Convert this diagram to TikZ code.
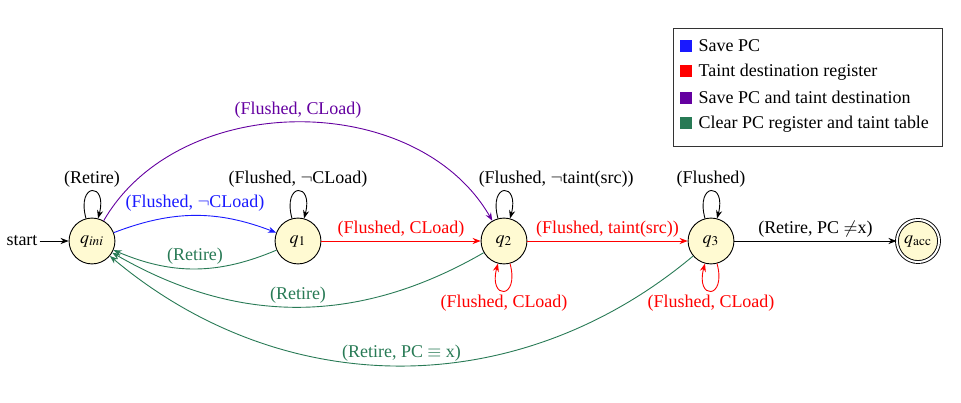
\documentclass[tikz,border=0pt]{standalone}
\usepackage{mathptmx}
\usepackage{fontspec}
\setmainfont{Liberation Serif}
\usetikzlibrary{arrows.meta}
\definecolor{cblue}{RGB}{25,25,255}
\definecolor{cred}{RGB}{255,0,0}
\definecolor{cpurple}{RGB}{100,0,160}
\definecolor{cgreen}{RGB}{40,122,85}
\definecolor{cfill}{RGB}{255,250,210}
\begin{document}
\begin{tikzpicture}[x=0.556pt,y=0.556pt,
  state/.style={circle,draw,line width=0.5pt,fill=cfill,minimum size=25.5pt,inner sep=0pt},
  accstate/.style={state,double,double distance=1.1pt,minimum size=23.4pt},
  tr/.style={-{Stealth[length=4.5pt,width=3.4pt]},line width=0.5pt},
  lbl/.style={inner sep=2pt},
  legrow/.style={anchor=base west,inner sep=0pt}
]
\useasboundingbox (0,0) rectangle (961,403);

% states
\node[state] (qini) at (92,162) {$q_{ini}$};
\node[state] (q1) at (298,162) {$q_1$};
\node[state] (q2) at (504,162) {$q_2$};
\node[state] (q3) at (711,162) {$q_3$};
\node[accstate] (qacc) at (918,162) {$q_{\mathrm{acc}}$};
\node[inner sep=1pt] (start) at (22,162) {start};
\draw[tr] (start) -- (qini);

% straight transitions
\draw[tr,cred] (q1) -- node[lbl,above,cred] {(Flushed, CLoad)} (q2);
\draw[tr,cred] (q2) -- node[lbl,above,cred] {(Flushed, taint(src))} (q3);
\draw[tr] (q3) -- node[lbl,above] {(Retire, PC $\neq$x)} (qacc);

% curved transitions
\draw[tr,cblue] (qini) to[bend left=21] node[lbl,above,cblue] {(Flushed, $\neg$CLoad)} (q1);
\draw[tr,cgreen] (q1) to[bend left=23] node[lbl,above,cgreen] {(Retire)} (qini);
\draw[tr,cpurple] (qini) to[out=60,in=120,looseness=1.0] node[lbl,above,cpurple] {(Flushed, CLoad)} (q2);
\draw[tr,cgreen] (q2) to[bend left=30] node[lbl,above,cgreen] {(Retire)} (qini);
\draw[tr,cgreen] (q3) to[bend left=40] node[lbl,above,cgreen] {(Retire, PC $\equiv$ x)} (qini);

% loops
\draw[tr] (qini) to[loop above] node[lbl,above] {(Retire)} (qini);
\draw[tr] (q1) to[loop above] node[lbl,above] {(Flushed, $\neg$CLoad)} (q1);
\draw[tr] (q2) to[loop above] node[lbl,above,xshift=29pt] {(Flushed, $\neg$taint(src))} (q2);
\draw[tr] (q3) to[loop above] node[lbl,above] {(Flushed)} (q3);
\draw[tr,cred] (q2) to[loop below] node[lbl,below,cred] {(Flushed, CLoad)} (q2);
\draw[tr,cred] (q3) to[loop below] node[lbl,below,cred] {(Flushed, CLoad)} (q3);

% legend
\node[draw=black!80,line width=0.5pt,minimum width=150pt,minimum height=65.6pt,inner sep=0pt] (legend) at (808,316) {};
\node[legrow] (l1) at (680,351) {\textcolor{cblue}{\rule{6.6pt}{6.6pt}}\hspace{3.6pt}Save PC};
\node[legrow] (l2) at (680,326) {\textcolor{cred}{\rule{6.6pt}{6.6pt}}\hspace{3.6pt}Taint destination register};
\node[legrow] (l3) at (680,299) {\textcolor{cpurple}{\rule{6.6pt}{6.6pt}}\hspace{3.6pt}Save PC and taint destination};
\node[legrow] (l4) at (680,274) {\textcolor{cgreen}{\rule{6.6pt}{6.6pt}}\hspace{3.6pt}Clear PC register and taint table};
\end{tikzpicture}
\end{document}
